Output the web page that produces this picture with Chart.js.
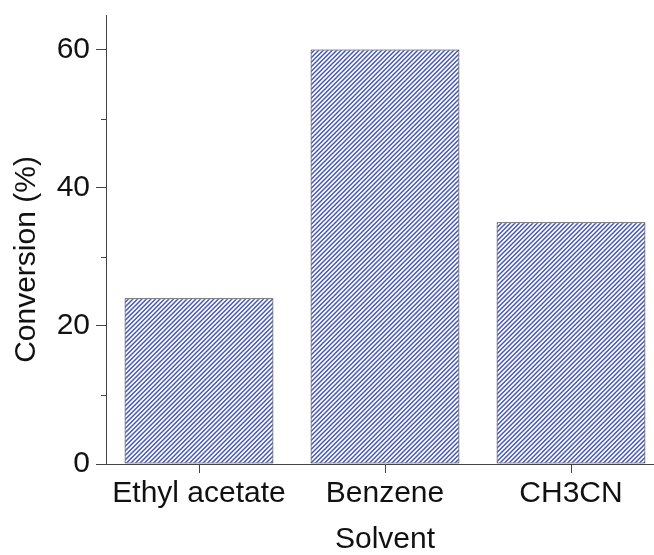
<!DOCTYPE html>
<html>
<head>
<meta charset="utf-8">
<script src="https://cdn.jsdelivr.net/npm/chart.js@4/dist/chart.umd.min.js"></script>
<style>
  html, body { margin: 0; padding: 0; background: #fff; overflow: hidden; width: 654px; height: 555px; }
  #wrap { position: absolute; left: 0; top: 0; width: 664px; height: 555px; }
  canvas { display: block; }
</style>
</head>
<body>
<div id="wrap"><canvas id="c" width="664" height="555"></canvas></div>
<script>
const categories = ['Ethyl acetate', 'Benzene', 'CH3CN'];
const conversion = [24, 60, 35];
const yTickValues = [0, 20, 40, 60];
const yMinorTickValues = [10, 30, 50];
const yMin = 0;
const yMax = 65;
const xTitle = 'Solvent';
const yTitle = 'Conversion (%)';

function makeHatch() {
  const s = 9;
  const pc = document.createElement('canvas');
  pc.width = s; pc.height = s;
  const g = pc.getContext('2d');
  g.fillStyle = '#ffffff';
  g.fillRect(0, 0, s, s);
  g.strokeStyle = '#4556c0';
  g.lineWidth = 1.5;
  g.beginPath();
  for (let c = -4.5; c <= 2 * s + 4.5; c += 4.5) {
    g.moveTo(c - s - 1, s + 1);
    g.lineTo(c + 1, -1);
  }
  g.stroke();
  return g.createPattern(pc, 'repeat');
}

const axisColor = '#444444';
const textColor = '#111111';
const fontFamily = '"Liberation Sans", Arial, sans-serif';
const fontSize = 30;

const extras = {
  id: 'extras',
  afterDraw(chart) {
    const y = chart.scales.y;
    const ctx = chart.ctx;
    ctx.save();
    ctx.strokeStyle = axisColor;
    ctx.lineWidth = 1;
    yMinorTickValues.forEach(v => {
      const py = Math.round(y.getPixelForValue(v)) + 0.5;
      ctx.beginPath();
      ctx.moveTo(y.right - 5, py);
      ctx.lineTo(y.right, py);
      ctx.stroke();
    });
    // y axis title
    ctx.fillStyle = textColor;
    ctx.font = fontSize + 'px ' + fontFamily;
    ctx.textAlign = 'center';
    ctx.textBaseline = 'middle';
    ctx.translate(27, (y.top + y.bottom) / 2 + 20);
    ctx.rotate(-Math.PI / 2);
    ctx.fillText(yTitle, 0, 0);
    ctx.restore();
  }
};

new Chart(document.getElementById('c'), {
  type: 'bar',
  data: {
    labels: categories,
    datasets: [{
      data: conversion,
      backgroundColor: makeHatch(),
      borderColor: '#222222',
      borderWidth: 1,
      borderSkipped: false,
      categoryPercentage: 1.0,
      barPercentage: 0.8
    }]
  },
  options: {
    responsive: false,
    animation: false,
    devicePixelRatio: 1,
    layout: { padding: { top: 15, left: 0, right: 0, bottom: 0 } },
    plugins: { legend: { display: false }, tooltip: { enabled: false } },
    scales: {
      x: {
        offset: true,
        grid: { display: true, drawOnChartArea: false, drawTicks: true, tickLength: 9, color: axisColor, offset: false },
        border: { display: true, color: axisColor, width: 1 },
        ticks: { color: textColor, font: { family: fontFamily, size: fontSize }, padding: 3, maxRotation: 0, autoSkip: false },
        title: { display: true, text: xTitle, color: textColor, font: { family: fontFamily, size: fontSize, lineHeight: 1 }, padding: { top: 0, bottom: 0 } },
        afterFit(scale) { scale.height = 91; scale.paddingLeft = 0; scale.paddingRight = 0; }
      },
      y: {
        min: yMin,
        max: yMax,
        afterBuildTicks(scale) { scale.ticks = yTickValues.map(v => ({ value: v })); },
        grid: { display: true, drawOnChartArea: false, drawTicks: true, tickLength: 10, color: axisColor },
        border: { display: true, color: axisColor, width: 1 },
        ticks: { color: textColor, font: { family: fontFamily, size: fontSize }, padding: 6 },
        title: { display: false },
        afterFit(scale) { scale.width = 106; scale.paddingTop = 0; scale.paddingBottom = 0; }
      }
    }
  },
  plugins: [extras]
});
</script>
</body>
</html>
